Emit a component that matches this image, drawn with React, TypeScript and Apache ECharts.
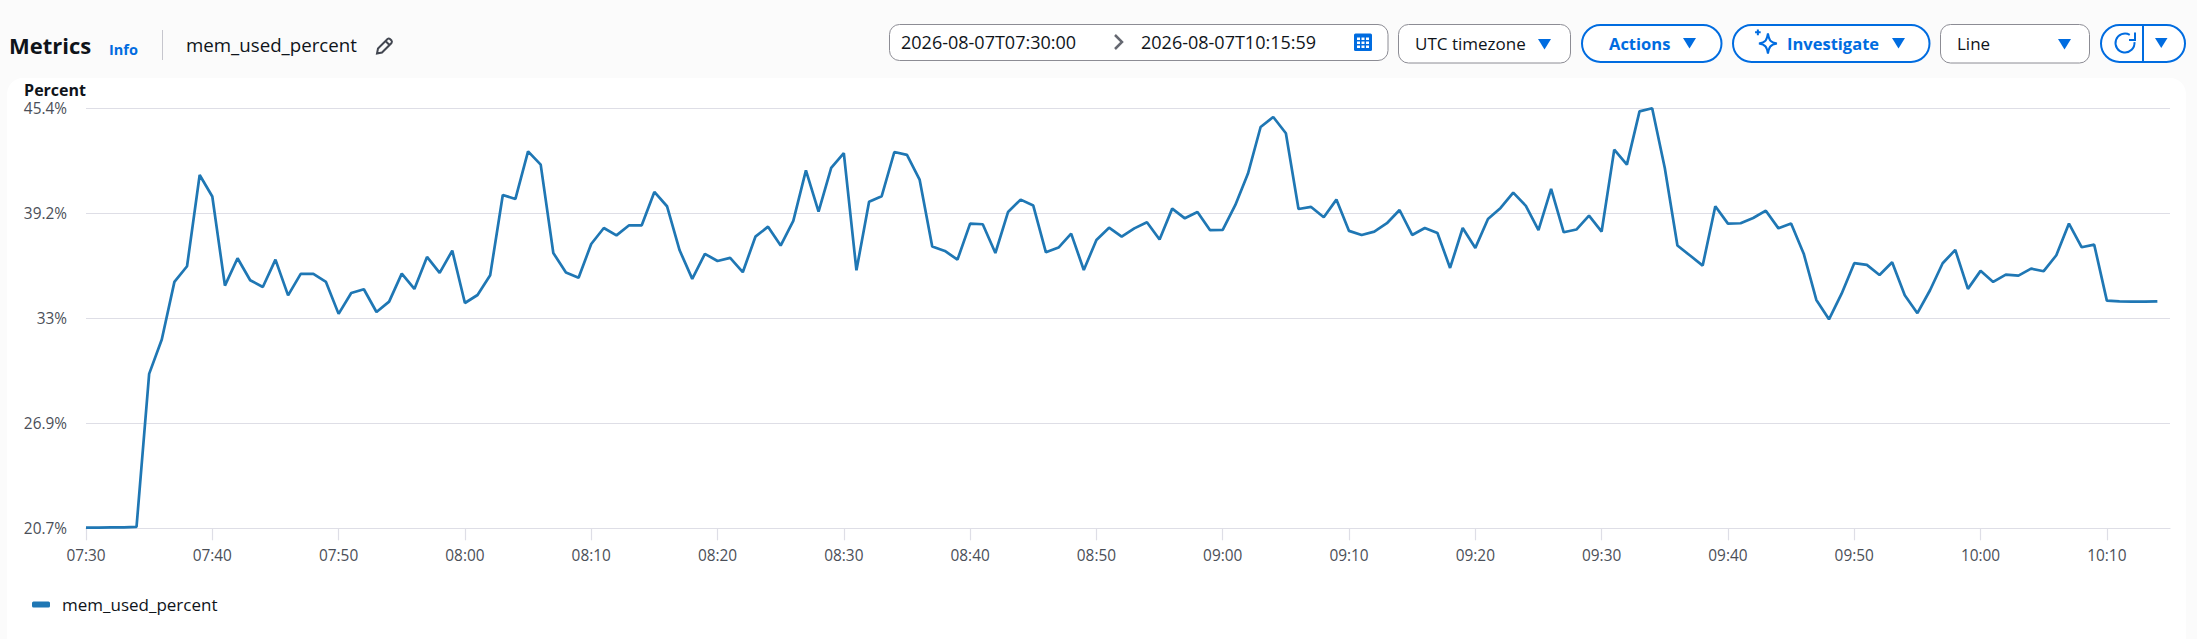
import React, { useEffect, useRef } from "react";
import * as echarts from "echarts";

const seriesName = "mem_used_percent";
const memUsedPercent: number[] = [
  20.72, 20.72, 20.74, 20.74, 20.76, 29.76, 31.78, 35.17, 36.09, 41.46,
  40.19, 34.95, 36.56, 35.27, 34.87, 36.48, 34.38, 35.64, 35.64, 35.17,
  33.29, 34.52, 34.74, 33.4, 34.01, 35.66, 34.76, 36.64, 35.7, 37.01,
  33.93, 34.4, 35.56, 40.28, 40.05, 42.85, 42.07, 36.87, 35.72, 35.42,
  37.4, 38.34, 37.91, 38.5, 38.5, 40.46, 39.62, 37.03, 35.35, 36.82,
  36.4, 36.58, 35.74, 37.83, 38.42, 37.31, 38.76, 41.73, 39.3, 41.87,
  42.75, 35.85, 39.89, 40.21, 42.81, 42.64, 41.19, 37.25, 36.99, 36.48,
  38.6, 38.56, 36.87, 39.28, 40.01, 39.66, 36.91, 37.19, 38.01, 35.87,
  37.64, 38.36, 37.83, 38.32, 38.68, 37.66, 39.48, 38.91, 39.28, 38.21,
  38.23, 39.7, 41.54, 44.28, 44.87, 43.91, 39.46, 39.58, 38.97, 40.01,
  38.17, 37.93, 38.13, 38.62, 39.4, 37.93, 38.34, 38.05, 35.99, 38.34,
  37.17, 38.87, 39.52, 40.42, 39.64, 38.21, 40.64, 38.09, 38.25, 39.07,
  38.13, 42.95, 42.07, 45.2, 45.38, 41.87, 37.31, 36.72, 36.13, 39.62,
  38.6, 38.62, 38.93, 39.36, 38.32, 38.6, 36.83, 34.11, 32.97, 34.48,
  36.27, 36.17, 35.58, 36.33, 34.38, 33.33, 34.68, 36.27, 37.05, 34.76,
  35.82, 35.17, 35.6, 35.54, 35.95, 35.8, 36.74, 38.6, 37.21, 37.36,
  34.07, 34.03, 34.01, 34.01, 34.03,
];

const startMinute = 7 * 60 + 30;
const minuteCount = 166;
const timeLabels: string[] = Array.from({ length: minuteCount }, (_, i) => {
  const t = startMinute + i;
  return `${String(Math.floor(t / 60)).padStart(2, "0")}:${String(t % 60).padStart(2, "0")}`;
});

const yMin = 20.68;
const yMax = 45.38;
const yInterval = 6.175;

const fromTime = "2026-08-07T07:30:00";
const toTime = "2026-08-07T10:15:59";

const FONT = "'Open Sans', 'Noto Sans', sans-serif";
const BLUE = "#006ce0";
const INK = "#0f141a";
const GREY = "#8c8c94";
const LINE = "#1f77b4";
const RULE = "#dedee6";
const TICK_TEXT = "#4b4f58";

const everyTenth = (i: number) => i % 10 === 0;

echarts.graphic.registerShape(
  "pencilIcon",
  echarts.graphic.extendPath("M1 16 L2 11 L11.5 1.5 Q12.8 0.6 14 1.5 L15.5 3 Q16.4 4.2 15.5 5.5 L6 15 Z M9.5 3.5 L13.5 7.5", {})
);
echarts.graphic.registerShape(
  "sparkIcon",
  echarts.graphic.extendPath("M12 4 C13 10,14 12,20 13 C14 14,13 16,12 22 C11 16,10 14,4 13 C10 12,11 10,12 4 Z M3 0.5 L3 5.5 M0.5 3 L5.5 3", {})
);

const txt = (text: string, x: number, y: number, fontSize: number, fill = INK, fontWeight: any = "normal") => ({
  type: "text",
  x,
  y,
  style: { text, fontSize, fontFamily: FONT, fill, fontWeight, verticalAlign: "middle", align: "left" },
});
const box = (x: number, y: number, w: number, h: number, r: number, stroke: string, lineWidth: number) => ({
  type: "rect",
  shape: { x, y, width: w, height: h, r },
  style: { fill: "#ffffff", stroke, lineWidth },
});
const tri = (x: number, y: number, w = 13, h = 10.5) => ({
  type: "polygon",
  shape: { points: [[x, y], [x + w, y], [x + w / 2, y + h]] },
  style: { fill: BLUE },
});

const calendar = () => {
  const cells: any[] = [
    { type: "rect", shape: { x: 1354, y: 33.5, width: 18, height: 17.5, r: 1.5 }, style: { fill: BLUE } },
  ];
  for (let c = 0; c < 3; c++) {
    for (let r = 0; r < 3; r++) {
      cells.push({
        type: "rect",
        shape: { x: 1357 + c * 4.5, y: 37.5 + r * 4, width: 3, height: 2.5 },
        style: { fill: "#ffffff" },
      });
    }
  }
  return cells;
};

const chrome: any[] = [
  txt("Metrics", 9, 45, 22, INK, "bold"),
  txt("Info", 109, 49, 14.5, BLUE, "bold"),
  { type: "line", shape: { x1: 162.5, y1: 30, x2: 162.5, y2: 60 }, style: { stroke: "#c6c6cd", lineWidth: 1 } },
  txt(seriesName, 186, 44, 18.7),
  { type: "pencilIcon", x: 376, y: 37.5, style: { fill: "none", stroke: "#424650", lineWidth: 2 } },

  box(889.5, 24.5, 498.5, 36, 10, GREY, 1),
  txt(fromTime, 901, 42, 18),
  { type: "polyline", shape: { points: [[1115, 35], [1122, 42], [1115, 49]] }, style: { fill: "none", stroke: "#656871", lineWidth: 2.5 } },
  txt(toTime, 1141, 42, 18),
  ...calendar(),

  box(1398.5, 24.5, 172, 38.5, 10, GREY, 1),
  txt("UTC timezone", 1415, 43.5, 17),
  tri(1538, 39),

  box(1582, 25, 139.5, 37, 18.5, BLUE, 2),
  txt("Actions", 1609, 43, 16.5, BLUE, "bold"),
  tri(1683, 38),

  box(1733, 25, 196.5, 37, 18.5, BLUE, 2),
  { type: "sparkIcon", x: 1754.5, y: 29, scaleX: 1.12, scaleY: 1.12, style: { fill: "none", stroke: BLUE, lineWidth: 1.8 } },
  txt("Investigate", 1787, 43, 16.5, BLUE, "bold"),
  tri(1892, 38),

  box(1940.5, 24.5, 149, 38.5, 10, GREY, 1),
  txt("Line", 1957, 43.5, 17),
  tri(2058, 39),

  box(2101, 25, 84, 37, 18.5, BLUE, 2),
  { type: "line", shape: { x1: 2143, y1: 25, x2: 2143, y2: 62 }, style: { stroke: BLUE, lineWidth: 2 } },
  {
    type: "arc",
    shape: { cx: 2125, cy: 43, r: 9.5, startAngle: (-5 * Math.PI) / 180, endAngle: (-60 * Math.PI) / 180, clockwise: true },
    style: { fill: "none", stroke: BLUE, lineWidth: 2 },
  },
  { type: "polyline", shape: { points: [[2135, 32.5], [2135, 40], [2129, 40]] }, style: { fill: "none", stroke: BLUE, lineWidth: 2 } },
  tri(2155, 38, 12.5, 10),
];

export default function App() {
  const ref = useRef<HTMLDivElement>(null);
  useEffect(() => {
    const chart = echarts.init(ref.current!, undefined, { renderer: "svg" });
    chart.setOption({
      animation: false,
      backgroundColor: "transparent",
      textStyle: { fontFamily: FONT },
      grid: { left: 86, right: 27, top: 108.3, bottom: 110.7, containLabel: false },
      legend: {
        left: 32,
        top: 596,
        padding: 0,
        icon: "roundRect",
        itemWidth: 18,
        itemHeight: 6,
        itemGap: 12,
        textStyle: { fontSize: 17, color: INK, fontFamily: FONT, padding: [0, 0, 0, 7] },
        data: [seriesName],
      },
      xAxis: {
        type: "category",
        boundaryGap: false,
        data: timeLabels,
        axisLine: { show: true, lineStyle: { color: RULE, width: 1.2 } },
        axisTick: { show: true, alignWithLabel: true, interval: everyTenth, length: 12, lineStyle: { color: RULE, width: 1.2 } },
        axisLabel: { interval: everyTenth, margin: 20, fontSize: 15.4, color: TICK_TEXT, fontFamily: FONT },
        splitLine: { show: false },
      },
      yAxis: {
        type: "value",
        min: yMin,
        max: yMax,
        interval: yInterval,
        name: "Percent",
        nameLocation: "end",
        nameGap: 10,
        nameTextStyle: { align: "right", verticalAlign: "bottom", fontSize: 16, fontWeight: "bold", color: INK, fontFamily: FONT, padding: [0, 0, 0, 0] },
        axisLine: { show: false },
        axisTick: { show: false },
        axisLabel: {
          margin: 19,
          fontSize: 15.4,
          color: TICK_TEXT,
          fontFamily: FONT,
          formatter: (v: number) => `${parseFloat(v.toFixed(1))}%`,
        },
        splitLine: { show: true, lineStyle: { color: RULE, width: 1.2 } },
      },
      series: [
        {
          name: seriesName,
          type: "line",
          data: memUsedPercent,
          showSymbol: false,
          smooth: false,
          lineStyle: { color: LINE, width: 2.7 },
          itemStyle: { color: LINE },
        },
      ],
      graphic: { elements: chrome },
    });
    return () => chart.dispose();
  }, []);
  return (
    <div style={{ position: "fixed", left: 0, top: 0, width: 2197, height: 639, background: "#fbfbfb", overflow: "hidden" }}>
      <div style={{ position: "absolute", left: 7, top: 78, width: 2179, height: 580, background: "#ffffff", borderRadius: 16 }} />
      <div ref={ref} style={{ position: "absolute", left: 0, top: 0, width: 2197, height: 639 }} />
    </div>
  );
}
